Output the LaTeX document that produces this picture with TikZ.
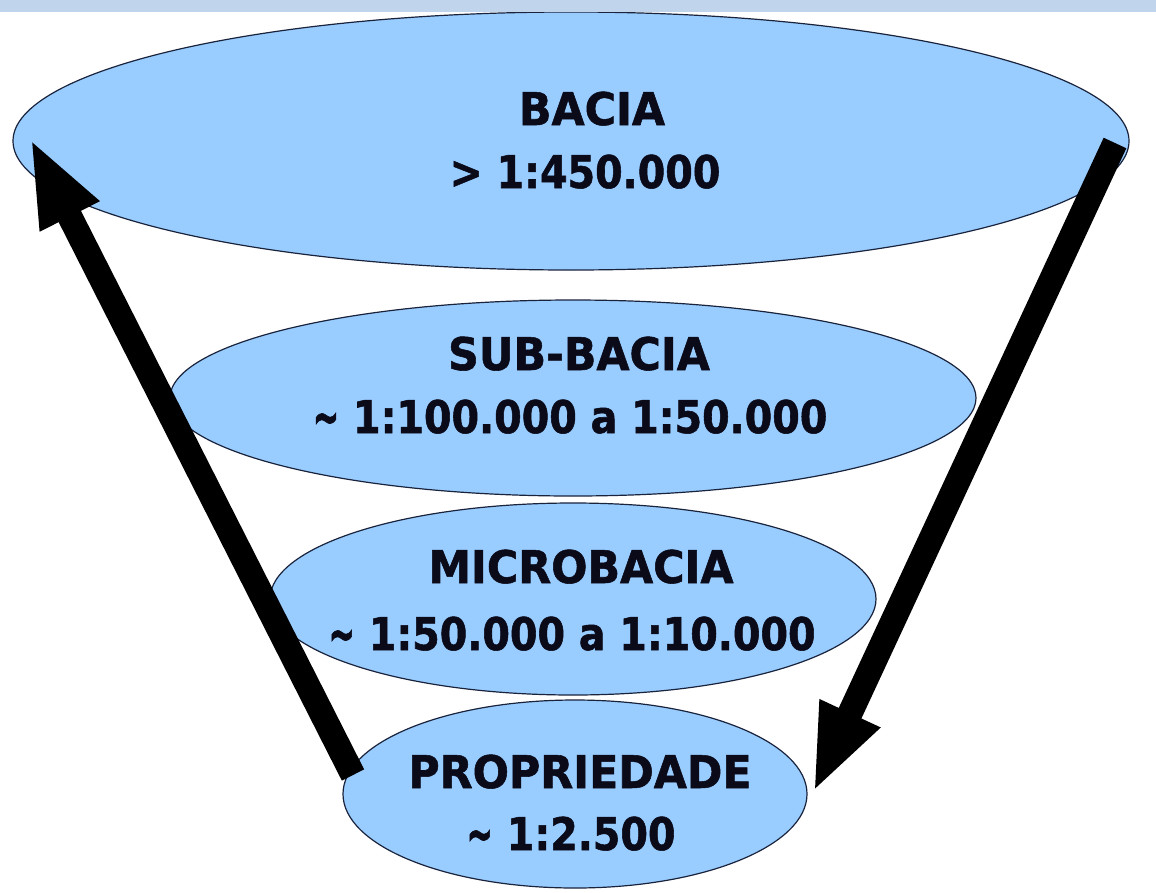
\documentclass[tikz,border=0pt]{standalone}
\usepackage{fontspec}
\usetikzlibrary{arrows.meta,shapes.geometric}
\newfontfamily\hdfont{DejaVu Sans}[FakeStretch=0.95,FakeBold=1.2]
\newfontfamily\scfont{DejaVu Sans}[FakeStretch=0.88,FakeBold=1.2]
\definecolor{band}{RGB}{192,212,236}
\definecolor{fillb}{RGB}{153,204,255}
\definecolor{edge}{RGB}{25,35,60}
\definecolor{ink}{RGB}{10,10,25}
\newcommand\tld{\raisebox{-0.07em}{\scalebox{0.8}[1.25]{\textasciitilde}}}
\tikzset{
  ell/.style={ellipse, draw=edge, fill=fillb, line width=1.2pt, inner sep=0pt},
  hd/.style={anchor=base, text=ink, inner sep=0pt, font=\hdfont\bfseries\fontsize{45}{54}\selectfont},
  sc/.style={anchor=base, text=ink, inner sep=0pt, font=\scfont\bfseries\fontsize{45}{54}\selectfont},
  arr/.style={line width=25pt, draw=black, -{Triangle[length=88pt,width=60pt]}}
}
\begin{document}
\begin{tikzpicture}[x=1pt,y=-1pt]
\useasboundingbox (0,0) rectangle (1156,892);
\fill[white] (0,0) rectangle (1156,892);
% ellipses
\node[ell, minimum width=1116pt, minimum height=258pt] (e1) at (571,141) {};
\node[ell, minimum width=806pt, minimum height=196pt] (e2) at (573,398) {};
\node[ell, minimum width=606pt, minimum height=192pt] (e3) at (573,599) {};
\node[ell, minimum width=464pt, minimum height=188pt] (e4) at (575,794) {};
% top band
\fill[band] (0,0) rectangle (1156,11.5);
% texts
\node[hd] (t1) at (592,125) {BACIA};
\node[sc] (s1) at (585,188) {> 1:450.000};
\node[hd] (t2) at (579,370) {SUB-BACIA};
\node[sc] (s2) at (570,433) {\tld\ 1:100.000 a 1:50.000};
\node[hd] (t3) at (581,583) {MICROBACIA};
\node[sc] (s3) at (572,650) {\tld\ 1:50.000 a 1:10.000};
\node[hd] (t4) at (580,788) {PROPRIEDADE};
\node[sc] (s4) at (571,850) {\tld\ 1:2.500};
% arrows
\coordinate (la) at (353,775);
\coordinate (lb) at (30,138);
\coordinate (ra) at (1115,143);
\coordinate (rb) at (813,793);
\draw[arr] (la) -- (lb);
\draw[arr] (ra) -- (rb);
\end{tikzpicture}
\end{document}
